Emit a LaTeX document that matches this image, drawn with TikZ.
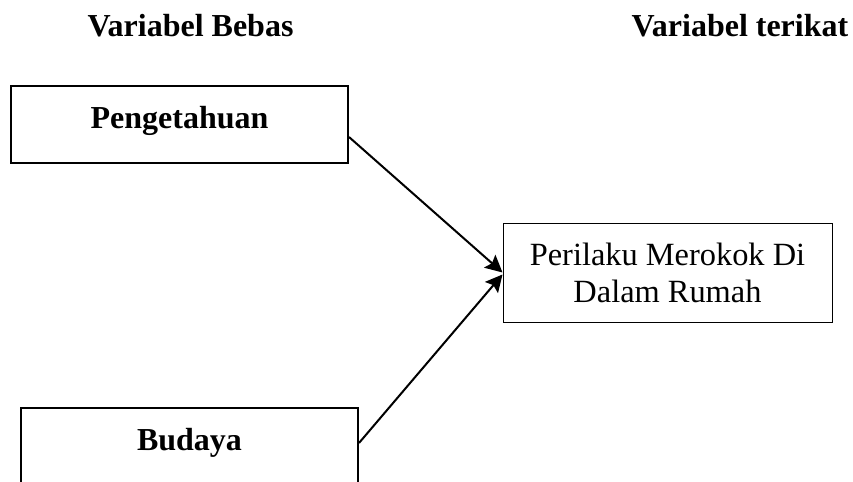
\documentclass[tikz,border=0pt]{standalone}
\usepackage{fontspec}
\setmainfont{Liberation Serif}
\usetikzlibrary{arrows.meta}

\begin{document}
\begin{tikzpicture}[x=0.5pt,y=-0.5pt,
	varbox/.style={draw,line width=1pt,minimum width=168.5pt,inner xsep=0pt,inner ysep=0pt,
		text height=21pt,text depth=17.5pt,font=\fontsize{16}{18}\selectfont\bfseries},
	depbox/.style={draw,line width=0.5pt,minimum width=164.5pt,minimum height=49.5pt,
		align=center,font=\fontsize{16.2}{18.5}\selectfont},
	judul/.style={anchor=base,inner sep=0pt,font=\fontsize{16}{18}\selectfont\bfseries},
	panah/.style={-{Stealth[length=8.5pt,width=8.5pt,inset=1.5pt]},line width=1pt}]

	\useasboundingbox (0,0) rectangle (853,482);

	\node[judul] (t1) at (190.5,36) {Variabel Bebas};
	\node[judul] (t2) at (740,36) {Variabel terikat};

	\node[varbox] (pg) at (179.5,124.5) {Pengetahuan};
	\node[varbox] (bd) at (189.5,446.5) {Budaya};
	\node[depbox] (pr) at (667.5,272.5) {Perilaku Merokok Di\\Dalam Rumah};

	\draw[panah] ([yshift=-6.25pt]pg.east) -- (pr.west);
	\draw[panah] ([yshift=1.75pt]bd.east) -- ([yshift=-1pt]pr.west);
\end{tikzpicture}
\end{document}
